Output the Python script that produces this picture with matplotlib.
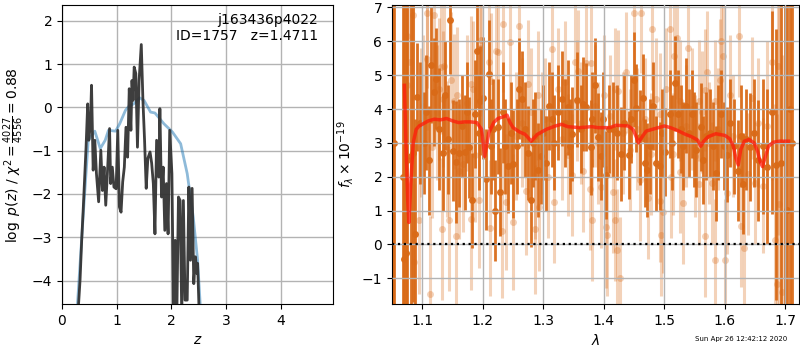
import numpy as np
import matplotlib
matplotlib.use("Agg")
import matplotlib.pyplot as plt

# ---------------- left panel data: log p(z) and scaled chi2 ----------------
pz_z = [0.30, 0.33, 0.36, 0.39, 0.44, 0.47, 0.49, 0.52, 0.54, 0.57, 0.60, 0.63, 0.67,
        0.71, 0.74, 0.77, 0.80, 0.83, 0.87, 0.89, 0.92, 0.95, 0.99, 1.02, 1.05, 1.08,
        1.11, 1.14, 1.17, 1.20, 1.23, 1.26, 1.28, 1.30, 1.32, 1.35, 1.38, 1.41, 1.45,
        1.48, 1.51, 1.54, 1.57, 1.61, 1.64, 1.67, 1.70, 1.73, 1.77, 1.79, 1.82, 1.85,
        1.88, 1.91, 1.94, 1.97, 2.01, 2.04, 2.07, 2.10, 2.13, 2.16, 2.19, 2.22, 2.25,
        2.29, 2.32, 2.35, 2.38, 2.41, 2.44, 2.47, 2.48, 2.51]
pz_logp = [-4.6, -3.99, -3.07, -2.3, -0.92, 0.08, -0.76, -0.38, 0.51, -1.45, -0.76, -1.53,
           -2.18, -0.99, -1.92, -1.38, -2.26, -1.53, -0.49, -1.76, -1.38, -1.84, -1.88,
           -0.53, -2.3, -2.42, -1.72, -1.38, -0.46, -1.15, 0.43, -0.53, 0.62, 0.16, 0.93,
           0.78, -0.92, 0.62, 1.45, 0.16, -0.76, -1.87, -1.18, -1.03, -1.29, -1.76, -2.92,
           -0.76, -1.61, -0.03, -2.07, -1.38, -2.84, -1.76, -2.92, -0.53, -1.53, -4.8,
           -3.07, -4.8, -2.07, -2.15, -4.8, -2.15, -4.45, -4.45, -1.84, -3.53, -1.87,
           -4.07, -3.45, -3.84, -3.6, -4.8]

chi_z = [0.28, 0.39, 0.48, 0.60, 0.70, 0.79, 0.85, 0.98, 1.055, 1.16, 1.22, 1.31, 1.42,
         1.50, 1.62, 1.70, 1.865, 2.02, 2.17, 2.29, 2.40, 2.48, 2.53]
chi_val = [-4.6, -2.45, -0.76, -0.55, -0.95, -0.76, -0.53, -0.55, -0.38, -0.07, 0.02, 0.08,
           0.22, 0.16, -0.11, -0.13, -0.38, -0.57, -0.84, -1.53, -2.53, -3.53, -4.6]

# ---------------- right panel data: spectrum ----------------
dark_lam = [1.051, 1.0535, 1.0675, 1.070, 1.073, 1.0755, 1.081, 1.0855, 1.0885,
            1.091, 1.096, 1.103, 1.1105, 1.115, 1.120, 1.123, 1.128, 1.134, 1.138, 1.146,
            1.151, 1.155, 1.160, 1.165, 1.170, 1.178, 1.182, 1.1865, 1.190, 1.196, 1.200,
            1.2056, 1.210, 1.2135, 1.220, 1.2245, 1.228, 1.233, 1.242, 1.2504, 1.2559,
            1.2597, 1.264, 1.270, 1.279, 1.287, 1.296, 1.304, 1.3137, 1.3236, 1.330,
            1.340, 1.348, 1.355, 1.366, 1.371, 1.378, 1.385, 1.3896, 1.3957, 1.3985,
            1.404, 1.415, 1.4276, 1.434, 1.441, 1.445, 1.4496, 1.4535, 1.459, 1.4645,
            1.472, 1.481, 1.4865, 1.492, 1.5003, 1.5085, 1.518, 1.5223, 1.527, 1.536,
            1.5454, 1.5526, 1.5597, 1.564, 1.569, 1.575, 1.585, 1.593, 1.6026, 1.609,
            1.615, 1.622, 1.630, 1.641, 1.648, 1.655, 1.663, 1.669, 1.677, 1.685, 1.692,
            1.6995, 1.703, 1.707, 1.711,
            1.106, 1.142, 1.174, 1.193, 1.217, 1.237, 1.246, 1.275, 1.283, 1.291,
            1.300, 1.309, 1.318, 1.336, 1.344, 1.362, 1.381, 1.408, 1.422, 1.468,
            1.476, 1.496, 1.513, 1.531, 1.540, 1.549, 1.580, 1.589, 1.598, 1.626, 1.635]
dark_flux = [3.0, 3.0, 2.0, -0.44, -0.25, 2.5, 2.6, 2.7, 0.31,
             4.35, 3.6, 3.0, 2.48, 5.3, 4.5, 4.9, 3.4, 2.7, 4.4, 6.64,
             2.77, 2.43, 2.7, 3.5, 2.72, 2.87, 1.3, 3.85, 5.72, 4.25, 4.33,
             1.92, 5.03, 2.9, 1.0, 3.48, 1.56, 3.9, 2.33, 2.38, 2.9,
             4.6, 4.3, 3.4, 1.32, 3.2, 2.6, 2.4, 3.7, 3.9, 4.3,
             4.05, 3.26, 4.28, 4.15, 4.05, 2.87, 4.7, 3.18, 2.6, 3.7,
             2.04, 3.4, 2.67, 3.6, 2.64, 3.7, 4.87, 4.03, 3.17, 4.33,
             2.2, 4.1, 2.4, 2.33, 2.72, 3.85, 4.76, 3.85, 3.4, 4.1,
             3.85, 2.8, 3.46, 2.5, 3.2, 3.3, 2.1, 3.85, 2.65, 3.58,
             2.9, 2.18, 1.8, 2.87, 3.3, 2.48, 2.9, 2.3, 3.9, 2.36, 2.42,
             3.0, 1.02, 4.0, 3.0,
             3.9, 3.1, 3.9, 3.3, 3.4, 2.9, 3.3, 2.7, 3.0, 2.2,
             3.3, 4.1, 3.0, 3.6, 2.9, 3.4, 3.7, 3.4, 3.3, 2.4,
             2.9, 3.3, 3.0, 2.9, 3.3, 3.1, 2.9, 3.3, 2.9, 3.2, 3.1]
dark_err = [20, 20, 12, 9, 9, 8, 6, 4.4, 3.4,
            1.6, 1.8, 1.5, 1.6, 1.7, 1.6, 1.5, 1.8, 1.7, 1.6, 1.6,
            1.5, 1.8, 1.6, 1.5, 1.7, 1.5, 1.4, 1.6, 1.7, 1.6, 1.8,
            1.5, 1.6, 1.4, 1.5, 1.4, 1.3, 1.5, 1.4, 1.6, 1.4,
            1.5, 1.4, 1.4, 1.4, 1.3, 1.4, 1.4, 1.4, 1.4, 1.4,
            1.4, 1.4, 1.4, 1.4, 1.3, 1.4, 1.4, 1.3, 1.3, 1.4,
            1.3, 1.4, 1.4, 1.4, 1.3, 1.3, 1.4, 1.3, 1.4, 1.3,
            1.4, 1.3, 1.4, 1.3, 1.3, 1.3, 1.4, 1.3, 1.3, 1.4,
            1.3, 1.4, 1.3, 1.3, 1.3, 1.3, 1.4, 1.3, 1.4, 1.3,
            1.4, 1.5, 1.5, 1.6, 1.6, 1.8, 2.0, 2.3, 3.0, 4.0, 5.0,
            15, 12, 15, 20,
            1.7, 1.6, 1.5, 1.7, 1.5, 1.4, 1.5, 1.4, 1.3, 1.4,
            1.4, 1.3, 1.4, 1.3, 1.4, 1.3, 1.4, 1.3, 1.4, 1.3,
            1.4, 1.3, 1.4, 1.3, 1.3, 1.4, 1.3, 1.4, 1.3, 1.5, 1.5]

light_lam = [1.0745, 1.075, 1.080, 1.084, 1.087, 1.094, 1.098, 1.102, 1.108, 1.1085,
             1.112, 1.116, 1.120, 1.124, 1.128, 1.131, 1.132, 1.135, 1.1355, 1.141,
             1.144, 1.148, 1.152, 1.156, 1.157, 1.160, 1.167, 1.174, 1.180, 1.1805,
             1.184, 1.187, 1.194, 1.196, 1.197, 1.210, 1.212, 1.214, 1.222, 1.225,
             1.231, 1.234, 1.239, 1.245, 1.250, 1.255, 1.259, 1.265, 1.271, 1.275,
             1.280, 1.286, 1.287, 1.292, 1.2925, 1.298, 1.303, 1.308, 1.314, 1.318,
             1.324, 1.330, 1.335, 1.341, 1.347, 1.352, 1.355, 1.357, 1.362, 1.366,
             1.371, 1.377, 1.379, 1.381, 1.386, 1.391, 1.396, 1.400, 1.404, 1.4045,
             1.410, 1.415, 1.418, 1.419, 1.422, 1.4232, 1.426, 1.431, 1.437, 1.443,
             1.4496, 1.455, 1.459, 1.462, 1.468, 1.473, 1.478, 1.480, 1.486, 1.492,
             1.4925, 1.494, 1.498, 1.503, 1.509, 1.511, 1.514, 1.516, 1.520, 1.525,
             1.526, 1.531, 1.535, 1.539, 1.545, 1.550, 1.5566, 1.5568, 1.562, 1.567,
             1.5675, 1.570, 1.574, 1.578, 1.583, 1.5835, 1.588, 1.592, 1.594, 1.597,
             1.600, 1.603, 1.608, 1.613, 1.6235, 1.627, 1.632, 1.638, 1.644, 1.649,
             1.655, 1.663, 1.670, 1.678, 1.682, 1.686, 1.688, 1.690, 1.695]
light_flux = [4.7, 6.17, 5.38, 6.78, -0.52, 0.73, 3.6, 4.1, 6.83, 5.48,
              -1.46, 2.87, 6.78, 3.9, 4.6, 5.25, 0.46, 4.3, 5.26, 2.82,
              0.71, 4.86, 4.23, 0.26, 4.42, 2.16, 2.38, 4.18, 4.74, 0.74,
              4.59, 2.65, 1.3, 5.8, 6.05, 5.38, 0.49, 4.84, 5.7, 5.69,
              0.41, 6.51, 1.25, 5.97, 0.66, 3.2, 6.46, 3.6, 1.59, 4.74,
              3.9, 2.06, 0.45, 4.4, 1.12, 3.3, 3.7, 2.0, 5.78, 1.24,
              4.6, 3.1, 4.8, 2.63, 2.06, 5.38, 4.25, 5.13, 3.6, 2.18,
              5.36, 1.64, 5.35, 0.71, 4.1, 3.0, 1.69, 4.4, 0.51, 0.27,
              3.8, 1.54, 4.59, 0.73, -0.15, 4.54, -0.98, 3.3, 5.08, 2.8,
              6.85, 3.4, 1.89, 6.85, 3.7, 1.37, 2.67, 6.36, 4.3, 3.85,
              1.27, 0.29, 0.97, 4.6, 6.36, 1.99, 2.67, 5.58, 6.1, 2.13,
              4.25, 1.23, 3.5, 5.8, 4.0, 2.6, 4.25, 1.79, 3.9, 4.56,
              0.24, 5.1, 3.0, 1.81, 4.25, -0.45, 3.4, 4.87, 6.0, 5.58,
              -0.47, 1.51, 4.4, 3.2, 6.17, 0.53, -0.1, 2.08, 4.33, 1.81,
              3.6, 1.74, 3.5, 5.4, 0.14, -1.16, 5.28, 1.2, -1.41]
light_err = [2.5, 2.5, 2.4, 2.5, 2.3, 2.2, 2.2, 2.1, 2.2, 2.1,
             2.3, 2.1, 2.2, 2.0, 2.1, 2.0, 2.1, 2.0, 2.1, 2.0,
             2.1, 2.0, 2.0, 2.1, 2.0, 2.0, 2.0, 2.0, 2.0, 2.1,
             2.0, 2.0, 2.0, 2.0, 2.1, 2.0, 2.0, 2.0, 2.0, 2.0,
             2.0, 2.0, 2.0, 2.0, 2.0, 1.9, 2.0, 1.9, 1.9, 1.9,
             1.9, 1.9, 1.9, 1.9, 1.9, 1.8, 1.8, 1.8, 1.8, 1.8,
             1.8, 1.8, 1.8, 1.8, 1.8, 1.8, 1.8, 1.8, 1.8, 1.8,
             1.8, 1.8, 1.8, 1.8, 1.8, 1.8, 1.8, 1.8, 1.8, 1.8,
             1.8, 1.8, 1.8, 1.8, 1.8, 1.8, 1.8, 1.8, 1.8, 1.8,
             1.8, 1.8, 1.8, 1.8, 1.8, 1.8, 1.8, 1.8, 1.8, 1.8,
             1.8, 1.8, 1.8, 1.8, 1.8, 1.8, 1.8, 1.8, 1.8, 1.8,
             1.8, 1.8, 1.8, 1.8, 1.8, 1.8, 1.8, 1.8, 1.8, 1.8,
             1.8, 1.8, 1.8, 1.8, 1.8, 1.8, 1.8, 1.8, 1.8, 1.8,
             1.8, 1.8, 1.8, 1.8, 1.8, 1.8, 1.8, 1.8, 1.8, 1.8,
             1.9, 2.0, 2.5, 3.5, 4.0, 5.0, 5.0, 6.0, 7.0]

model_lam = [1.0705, 1.073, 1.076, 1.078, 1.081, 1.085, 1.090, 1.095, 1.100, 1.110, 1.120,
             1.130, 1.140, 1.150, 1.160, 1.170, 1.180, 1.190, 1.198, 1.203, 1.210, 1.218,
             1.225, 1.235, 1.240, 1.245, 1.250, 1.260, 1.270, 1.275, 1.280, 1.290, 1.305,
             1.320, 1.330, 1.340, 1.360, 1.380, 1.390, 1.410, 1.420, 1.440, 1.448, 1.453,
             1.457, 1.462, 1.470, 1.480, 1.490, 1.500, 1.510, 1.520, 1.535, 1.545, 1.555,
             1.560, 1.565, 1.572, 1.585, 1.600, 1.608, 1.614, 1.618, 1.622, 1.626, 1.632,
             1.640, 1.648, 1.654, 1.658, 1.662, 1.666, 1.672, 1.680, 1.690, 1.705]
model_flux = [4.7, 3.0, 1.3, 0.65, 1.8, 3.0, 3.4, 3.5, 3.55, 3.65, 3.7,
              3.68, 3.72, 3.65, 3.6, 3.62, 3.62, 3.6, 3.4, 2.6, 3.3, 3.6,
              3.72, 3.78, 3.82, 3.6, 3.45, 3.33, 3.25, 3.15, 3.05, 3.25, 3.4,
              3.5, 3.55, 3.48, 3.45, 3.48, 3.45, 3.45, 3.52, 3.5, 3.4, 3.2,
              3.0, 3.15, 3.35, 3.4, 3.45, 3.5, 3.45, 3.38, 3.25, 3.18, 3.08,
              2.9, 3.05, 3.18, 3.27, 3.22, 3.12, 2.9, 2.55, 2.35, 2.8, 3.05,
              3.1, 3.0, 2.75, 2.45, 2.3, 2.55, 2.9, 3.02, 3.05, 3.05]

title_lines = ["j163436p4022", "ID=1757   z=1.4711"]
timestamp = "Sun Apr 26 12:42:12 2020"

# ---------------- figure ----------------
fig = plt.figure(figsize=(8, 3.5), dpi=100)
ax1 = fig.add_axes([0.0775, 0.1314, 0.339, 0.854])
ax2 = fig.add_axes([0.49, 0.1314, 0.5085, 0.854])

# left panel
ax1.plot(chi_z, chi_val, color='tab:blue', alpha=0.5, lw=2, zorder=3)
ax1.plot(pz_z, pz_logp, color='0.2', alpha=0.95, lw=2, zorder=4)
ax1.set_xlim(0, 4.96)
ax1.set_ylim(-4.54, 2.36)
ax1.set_xticks([0, 1, 2, 3, 4])
ax1.set_yticks([-4, -3, -2, -1, 0, 1, 2])
ax1.grid(True, color='0.7', lw=1)
ax1.set_xlabel(r'$z$')
ax1.set_ylabel(r'$\log\ p(z)$' + ' / ' + r'$\chi^2=\frac{4027}{4556}=0.88$')
ax1.text(0.945, 0.975, "\n".join(title_lines), transform=ax1.transAxes,
         ha='right', va='top', fontsize=10)

# right panel
col = '#d96a17'
ax2.errorbar(light_lam, light_flux, yerr=light_err, fmt='o', color=col, alpha=0.3,
             ms=5, lw=2.2, zorder=1, mec='none')
ax2.errorbar(dark_lam, dark_flux, yerr=dark_err, fmt='o', color=col, alpha=0.95,
             ms=5, lw=2.0, zorder=2, mec='none')
ax2.plot(model_lam, model_flux, color='#ff1a0a', alpha=0.75, lw=2.5, zorder=5)
ax2.axhline(0, color='k', ls=':', lw=1.6, zorder=6)
ax2.set_xlim(1.05, 1.722)
ax2.set_ylim(-1.76, 7.07)
ax2.set_xticks([1.1, 1.2, 1.3, 1.4, 1.5, 1.6, 1.7])
ax2.set_yticks([-1, 0, 1, 2, 3, 4, 5, 6, 7])
ax2.set_axisbelow(False)
ax2.grid(True, color='0.7', lw=1, zorder=3)
ax2.set_xlabel(r'$\lambda$')
ax2.set_ylabel(r'$f_\lambda \times 10^{-19}$')

fig.text(0.984, 0.031, timestamp, ha='right', va='center', fontsize=5)

fig.savefig('out.png', dpi=100)
